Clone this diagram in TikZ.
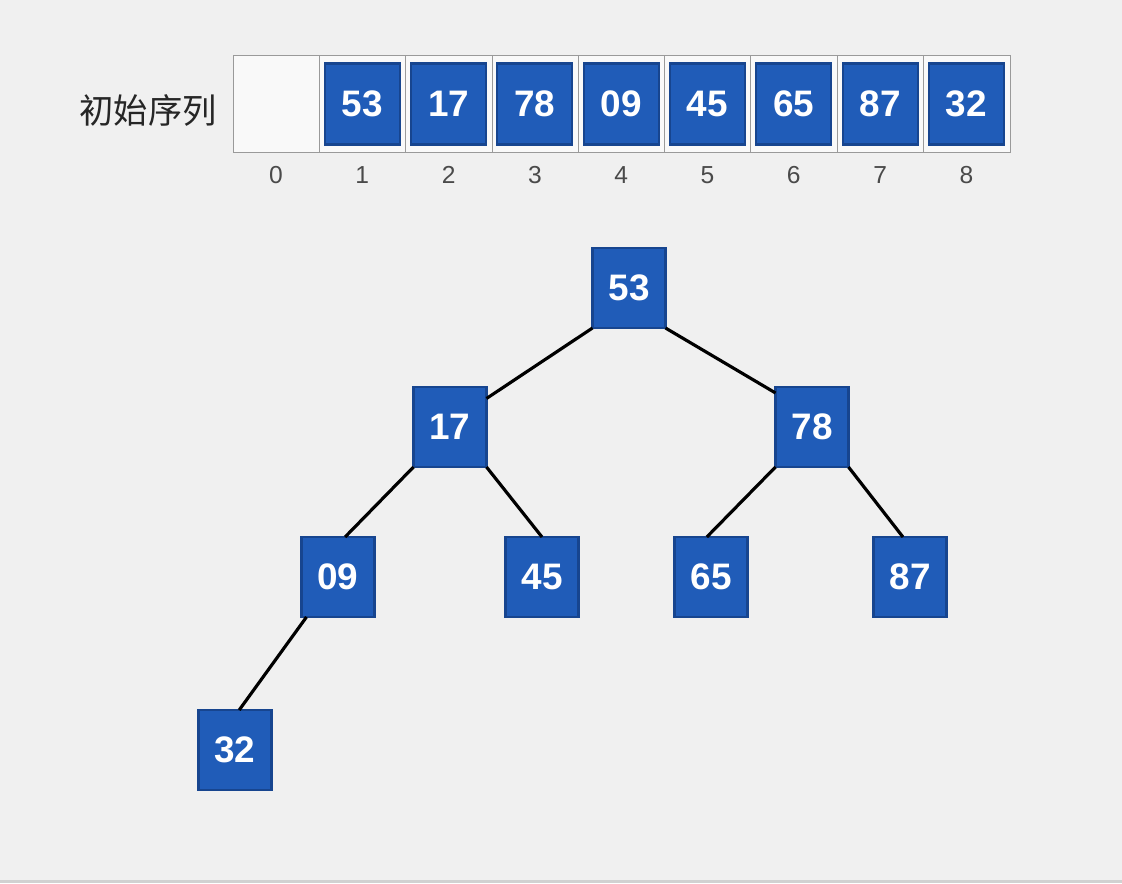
\documentclass[tikz,border=0pt]{standalone}
\usepackage{fontspec}
\setmainfont{Liberation Sans}
\newfontfamily\cjk{Noto Sans CJK SC}
\usepackage{tikz}

\definecolor{bgray}{HTML}{F0F0F0}
\definecolor{keyblue}{HTML}{205CB8}
\definecolor{keyedge}{HTML}{17458F}
\definecolor{celledge}{HTML}{9A9A9A}
\definecolor{idxgray}{HTML}{4A4A4A}

\tikzset{
  keybox/.style={draw=keyedge, line width=1.2pt, fill=keyblue, text=white,
    inner sep=0pt, outer sep=0pt, minimum width=1.46cm, minimum height=1.6cm,
    font=\fontsize{21}{21}\selectfont\bfseries},
  idx/.style={text=idxgray, font=\fontsize{14}{14}\selectfont},
  link/.style={line width=1.8pt, black}
}

\begin{document}
\begin{tikzpicture}[x=0.02cm, y=-0.02cm]

  % page
  \useasboundingbox[fill=bgray] (0,0) rectangle (1122,883);
  \fill[black!18] (0,880) rectangle (1122,883);

  % initial array
  \node[font=\cjk\fontsize{19.5}{19.5}\selectfont, text=black!85] (title) at (148,110) {初始序列};
  \draw[celledge, fill=white!60!bgray] (233,55) rectangle (1010,152);
  \foreach \i in {1,...,8} {
    \draw[celledge] ({233+86.3*\i},55) -- ({233+86.3*\i},152);
  }
  \node[idx] (i0) at (276,175) {0};
  \foreach \i/\val in {1/53, 2/17, 3/78, 4/09, 5/45, 6/65, 7/87, 8/32} {
    \node[keybox, minimum width=1.5cm, minimum height=1.62cm] (a\i) at ({276+86.3*\i},104) {\val};
    \node[idx] (i\i) at ({276+86.3*\i},175) {\i};
  }

  % heap as a tree
  \node[keybox] (t53) at (629,288) {53};
  \node[keybox] (t17) at (450,427) {17};
  \node[keybox] (t78) at (812,427) {78};
  \node[keybox] (t09) at (338,577) {09};
  \node[keybox] (t45) at (542,577) {45};
  \node[keybox] (t65) at (711,577) {65};
  \node[keybox] (t87) at (910,577) {87};
  \node[keybox] (t32) at (235,750) {32};

  \draw[link] (t53.south west) -- (t17.38);
  \draw[link] (t53.south east) -- (t78.137);
  \draw[link] (t17.south west) -- (t09.80);
  \draw[link] (t17.south east) -- (t45.north);
  \draw[link] (t78.south west) -- (t65.96);
  \draw[link] (t78.south east) -- (t87.100);
  \draw[link] (t09.south west) ++(0.1cm,0) coordinate (c09) (c09) -- (t32.84);

\end{tikzpicture}
\end{document}
